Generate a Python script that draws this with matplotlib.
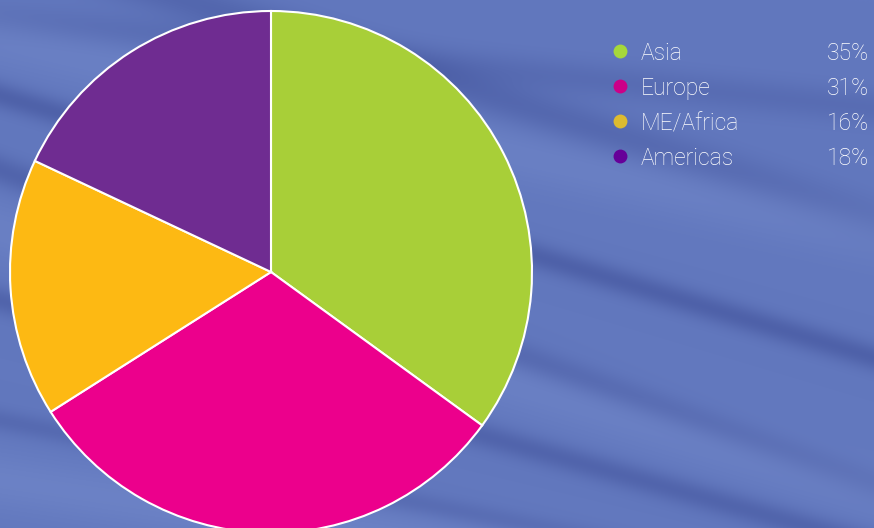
import numpy as np
import matplotlib
matplotlib.use("Agg")
import matplotlib.pyplot as plt

regions = ["Asia", "Europe", "ME/Africa", "Americas"]
shares = [35, 31, 16, 18]
pie_colors = ["#A8CF38", "#EC008C", "#FDB913", "#6F2C91"]
dot_colors = ["#A6D83A", "#CC0088", "#DDBB30", "#660099"]
share_labels = ["35%", "31%", "16%", "18%"]

W, H = 874, 528
fig = plt.figure(figsize=(W / 100, H / 100), dpi=100)
ax = fig.add_axes([0, 0, 1, 1])
ax.set_xlim(0, W)
ax.set_ylim(0, H)
ax.set_aspect("equal")
ax.axis("off")

# background: blue with soft diagonal streaks
yy, xx = np.mgrid[0:H, 0:W].astype(float)
base = np.array([0x62, 0x78, 0xBE], float) / 255
dark = np.array([0x4A, 0x5C, 0xA4], float) / 255
light = np.array([0x72, 0x88, 0xCA], float) / 255
shade = np.zeros((H, W))
for y0, slope, width, amp in [(95, 0.30, 14, 0.8), (-60, 0.32, 22, 0.6),
                               (170, 0.36, 16, 0.7), (300, 0.28, 14, 0.7),
                               (420, 0.20, 12, 0.5), (20, 0.10, 18, 0.4)]:
    d = yy - (y0 + slope * xx)
    shade += amp * np.exp(-(d / width) ** 2)
shade = np.clip(shade, 0, 1)
hl = np.zeros((H, W))
for y0, slope, width, amp in [(40, 0.22, 30, 0.5), (230, 0.30, 30, 0.5),
                               (480, 0.15, 30, 0.6)]:
    d = yy - (y0 + slope * xx)
    hl += amp * np.exp(-(d / width) ** 2)
hl = np.clip(hl, 0, 1)
img = base[None, None, :] * (1 - shade[..., None]) + dark[None, None, :] * shade[..., None]
img = img * (1 - hl[..., None]) + light[None, None, :] * hl[..., None]
ax.imshow(img, extent=(0, W, 0, H), origin="upper", zorder=0, aspect="auto")

ax.pie(shares, colors=pie_colors, startangle=90, counterclock=False,
       center=(271, 256), radius=261, frame=True,
       wedgeprops=dict(edgecolor="white", linewidth=1.5))
ax.set_xlim(0, W)
ax.set_ylim(0, H)
ax.axis("off")

row_y = [51, 86, 121, 156]
for i, (name, col, lab) in enumerate(zip(regions, dot_colors, share_labels)):
    y = H - row_y[i]
    ax.scatter([620], [y], s=100, color=col, zorder=5, linewidths=0)
    ax.text(641, y, name, color="white", fontsize=16.5, family="Roboto",
            fontweight="light", va="center_baseline", ha="left", zorder=5)
    ax.text(869, y, lab, color="white", fontsize=16.5, family="Roboto",
            fontweight="light", va="center_baseline", ha="right", zorder=5)

fig.savefig("out.png", dpi=100)
